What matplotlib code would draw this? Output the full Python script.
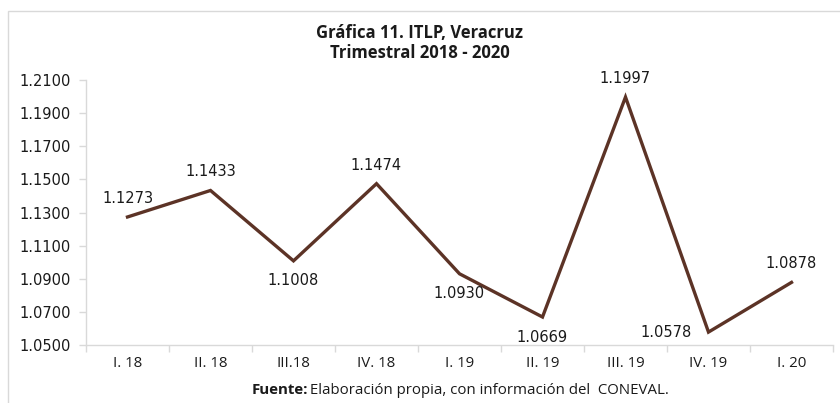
import matplotlib
matplotlib.use("Agg")
import matplotlib.pyplot as plt
from matplotlib.patches import Rectangle

categories = ["I. 18", "II. 18", "III.18", "IV. 18", "I. 19", "II. 19", "III. 19", "IV. 19", "I. 20"]
values = [1.1273, 1.1433, 1.1008, 1.1474, 1.0930, 1.0669, 1.1997, 1.0578, 1.0878]
label_pos = ["above", "above", "below", "above", "below", "below", "above", "left", "above"]
yticks = [1.05, 1.07, 1.09, 1.11, 1.13, 1.15, 1.17, 1.19, 1.21]

line_color = "#5C3326"
axis_color = "#D9D9D9"
text_color = "#1a1a1a"

fig = plt.figure(figsize=(8.4, 4.03), dpi=100)
W, H = 840, 403
ax = fig.add_axes([86 / W, 1 - 345 / H, (833 - 86) / W, (345 - 80) / H])

x = list(range(len(categories)))
ax.plot(x, values, color=line_color, lw=2.4, solid_joinstyle="miter", zorder=3)

ax.set_xlim(-0.5, len(categories) - 0.5)
ax.set_ylim(1.05, 1.21)
ax.set_yticks(yticks)
ax.set_yticklabels([f"{v:.4f}" for v in yticks], fontsize=10.5, family="DejaVu Sans", color=text_color)
ax.set_xticks(x)
ax.set_xticklabels(categories, fontsize=10.8, family="Open Sans", color=text_color)
ax.set_xticks([i - 0.5 for i in range(len(categories) + 1)], minor=True)
ax.tick_params(axis="x", which="major", length=0, pad=8)
ax.tick_params(axis="x", which="minor", length=5, color=axis_color, width=1)
ax.tick_params(axis="y", length=5, color=axis_color, width=1, pad=6)

for s in ["top", "right"]:
    ax.spines[s].set_visible(False)
for s in ["left", "bottom"]:
    ax.spines[s].set_color(axis_color)
    ax.spines[s].set_linewidth(1)

for xi, v, p in zip(x, values, label_pos):
    if p == "above":
        off, ha, va = (0, 8), "center", "bottom"
    elif p == "below":
        off, ha, va = (0, -9), "center", "top"
    else:
        off, ha, va = (-12, 0), "right", "center"
    ax.annotate(f"{v:.4f}", (xi, v), xytext=off, textcoords="offset points",
                ha=ha, va=va, fontsize=10.5, family="DejaVu Sans", color=text_color)

fig.text(0.5, 1 - 33 / H, "Gráfica 11. ITLP, Veracruz", ha="center", va="center",
         fontsize=12, fontweight="bold", family="Open Sans", color=text_color)
fig.text(0.5, 1 - 53 / H, "Trimestral 2018 - 2020", ha="center", va="center",
         fontsize=12, fontweight="bold", family="Open Sans", color=text_color)

# Footer: bold "Fuente:" followed by regular text
fig.canvas.draw()
renderer = fig.canvas.get_renderer()
t1 = fig.text(0, 1 - 390 / H, "Fuente:", ha="left", va="center", fontsize=10.8,
              fontweight="bold", family="Open Sans", color=text_color)
t2 = fig.text(0, 1 - 390 / H, " Elaboración propia, con información del  CONEVAL.", ha="left",
              va="center", fontsize=10.8, family="Open Sans", color=text_color)
w1 = t1.get_window_extent(renderer).width
w2 = t2.get_window_extent(renderer).width
total = w1 + w2
start = 461 - total / 2
t1.set_x(start / W)
t2.set_x((start + w1 - 2) / W)

# outer light frame
fig.patches.append(Rectangle((8 / W, -0.05), 1.2, 1 - 11 / H + 0.05, transform=fig.transFigure,
                             fill=False, edgecolor="#D9D9D9", lw=1))

fig.savefig("out.png", dpi=100)
